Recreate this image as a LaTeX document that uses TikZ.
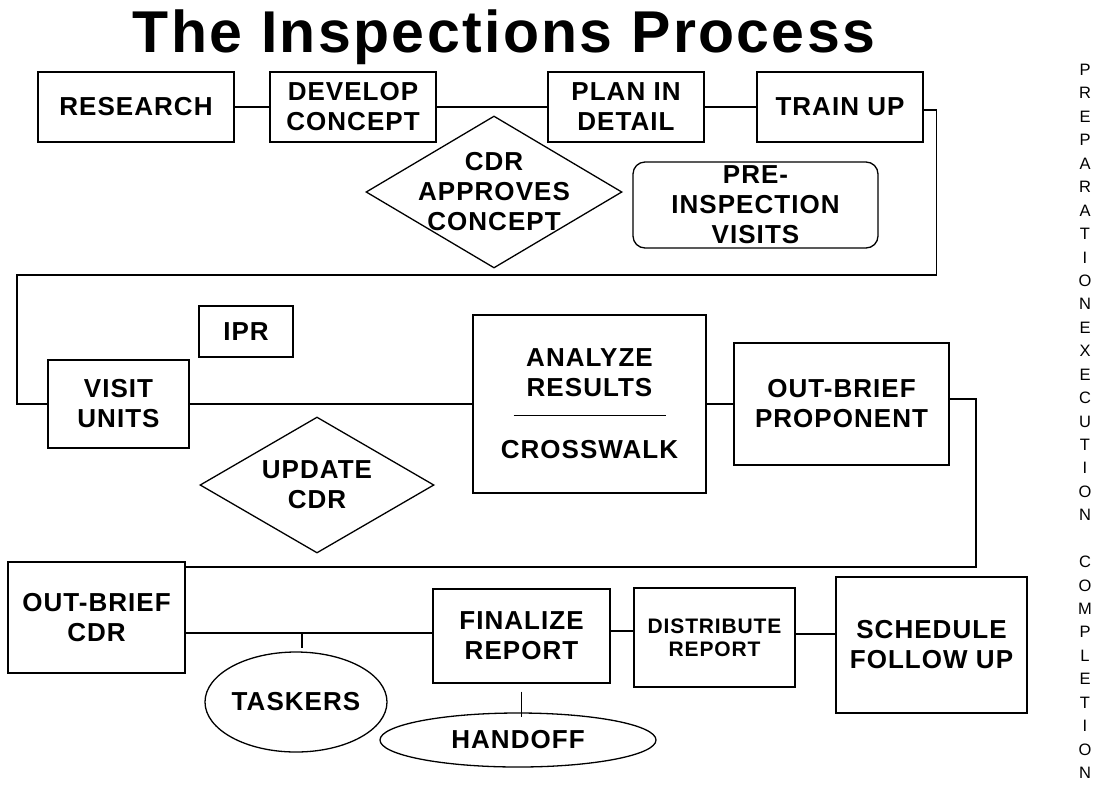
\documentclass[tikz,border=0pt]{standalone}
\usepackage{fontspec}
\setmainfont{Liberation Sans}
\usepackage{tikz}
\usetikzlibrary{shapes.geometric}

\newcommand\blockfont{\fontsize{26}{30}\selectfont\bfseries\addfontfeature{LetterSpace=4}}
\newcommand\smallblockfont{\fontsize{21}{23}\selectfont\bfseries\addfontfeature{LetterSpace=4}}
\newcommand\headfont{\fontsize{59}{64}\selectfont\bfseries\addfontfeature{LetterSpace=4}}
\newcommand\phasefont{\fontsize{16.5}{23.43}\selectfont}

\tikzset{
  block/.style = {draw, rectangle, line width=1.3pt, inner sep=2pt, align=center, font=\blockfont},
  softblock/.style = {block, rounded corners=12pt},
  decision/.style = {draw, diamond, line width=1.3pt, inner sep=0pt},
  blob/.style = {draw, ellipse, line width=1.3pt, inner sep=0pt, font=\blockfont},
  link/.style = {line width=1.3pt}
}

\begin{document}
\begin{tikzpicture}[x=1pt, y=-1pt]
    \useasboundingbox (0,0) rectangle (1102,788);

    \node (head) [font=\headfont, anchor=base] at (504,52) {The Inspections Process};

    % preparation
    \node (research) [block, minimum width=196pt, minimum height=70pt] at (136,107) {RESEARCH};
    \node (develop) [block, minimum width=166pt, minimum height=70pt] at (353,107) {DEVELOP\\CONCEPT};
    \node (plan) [block, minimum width=156pt, minimum height=70pt] at (626,107) {PLAN IN\\DETAIL};
    \node (train) [block, minimum width=166pt, minimum height=70pt] at (840,107) {TRAIN UP};
    \node (approve) [decision, minimum width=256pt, minimum height=152pt,
      label={[font=\blockfont, align=center]center:{CDR\\APPROVES\\CONCEPT}}] at (494,192) {};
    \node (previsit) [softblock, minimum width=245pt, minimum height=86pt] at (755.5,205) {PRE-\\INSPECTION\\VISITS};

    % execution
    \node (ipr) [block, minimum width=94pt, minimum height=51pt] at (246,331.5) {IPR};
    \node (visit) [block, minimum width=141pt, minimum height=88pt] at (118.5,404) {VISIT\\UNITS};
    \node (update) [decision, minimum width=234pt, minimum height=136pt,
      label={[font=\blockfont, align=center]center:{UPDATE\\CDR}}] at (317,485) {};
    \node (analyze) [block, minimum width=233pt, minimum height=178pt] at (589.5,404)
      {ANALYZE\\RESULTS\\[-11pt]\rule{152pt}{1pt}\\[13pt]CROSSWALK};
    \node (obprop) [block, minimum width=215pt, minimum height=122pt] at (841.5,404) {OUT-BRIEF\\PROPONENT};

    % completion
    \node (obcdr) [block, minimum width=177pt, minimum height=111pt] at (96.5,617.5) {OUT-BRIEF\\CDR};
    \node (finalize) [block, minimum width=177pt, minimum height=94pt] at (521.5,636) {FINALIZE\\REPORT};
    \node (distribute) [block, font=\smallblockfont, minimum width=161pt, minimum height=99pt] at (714.5,637.5) {DISTRIBUTE\\REPORT};
    \node (followup) [block, minimum width=191pt, minimum height=136pt] at (931.5,645) {SCHEDULE\\FOLLOW UP};
    \node (taskers) [blob, minimum width=182pt, minimum height=100pt] at (296,702) {TASKERS};
    \node (handoff) [blob, minimum width=276pt, minimum height=54pt] at (518,740) {HANDOFF};

    \node (phases) [font=\phasefont, align=center, inner sep=0pt, anchor=north] at (1085,64)
      {P\\R\\E\\P\\A\\R\\A\\T\\I\\O\\N\\E\\X\\E\\C\\U\\T\\I\\O\\N\\[23.43pt]C\\O\\M\\P\\L\\E\\T\\I\\O\\N};

    \path [link]
      (research) edge (develop)
      (develop) edge (plan)
      (plan) edge (train)
      (visit) edge (analyze)
      (analyze) edge (obprop);

    \coordinate (upperbend) at (17,275);
    \draw [link] ([yshift=-3pt]train.east) -- ++(13,0) |- (upperbend) |- (visit.west);

    \coordinate (lowerbend) at (976,567);
    \draw [link] ([yshift=5pt]obprop.east) -| (lowerbend) -- (lowerbend -| obcdr.east);

    \coordinate (taskjoin) at (302,633);
    \draw [link] (taskjoin -| obcdr.east) -- (taskjoin -| finalize.west);
    \draw [link, shorten >=3pt] (taskjoin) -- (taskjoin |- taskers.north);
    \draw [link, shorten >=3pt] ([yshift=-8pt]finalize.south) -- ([yshift=-8pt]finalize.south |- handoff.north);
    \draw [link] ([yshift=5pt]finalize.east) -- ([yshift=5pt]finalize.east -| distribute.west);
    \draw [link] ([yshift=3.5pt]distribute.east) -- ([yshift=3.5pt]distribute.east -| followup.west);
\end{tikzpicture}
\end{document}
